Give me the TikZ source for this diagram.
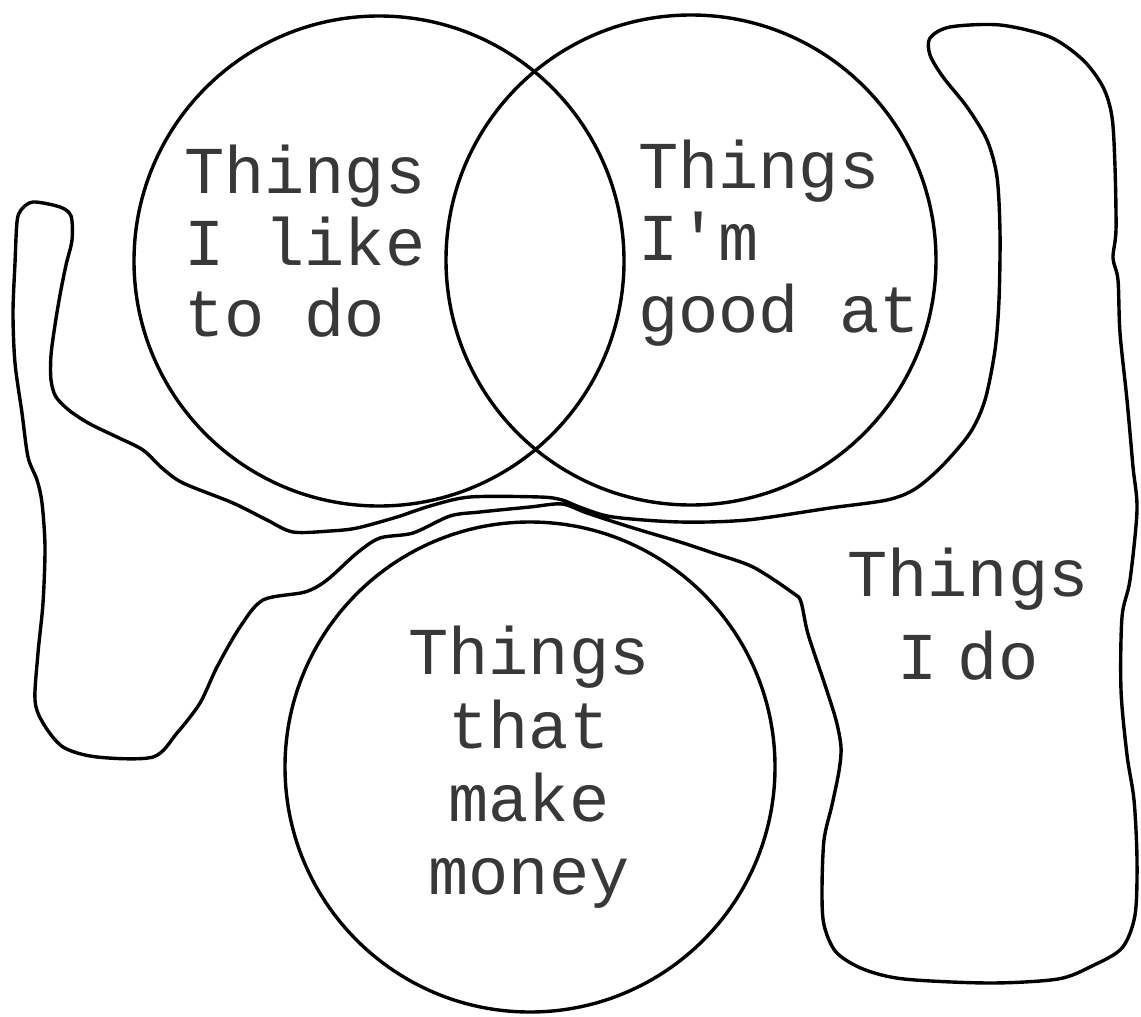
\documentclass[tikz,border=0pt]{standalone}
\usepackage{fontspec}
\setmonofont{Liberation Mono}
\begin{document}
\begin{tikzpicture}[x=1pt,y=-1pt,
  ring/.style={circle,draw=black,line width=3.4pt,minimum size=490pt,inner sep=0pt},
  blob/.style={draw=black,line width=3.4pt,line join=round},
  lbl/.style={inner sep=0pt,outer sep=0pt,text=black!78,font=\ttfamily\fontsize{67}{72}\selectfont},
]
\useasboundingbox (0,0) rectangle (1141,1017);
\fill[white] (0,0) rectangle (1141,1017);
% circles
\node[ring] (like) at (379,261) {};
\node[ring] (good) at (691,260) {};
\node[ring] (money) at (530,767) {};
% freehand outline "Things I do"
\draw[blob] plot[smooth cycle, tension=0.5] coordinates {
(33,202) (60,207) (71,216) (72,240) (66,265) (60,295) (55,325) (51,355) (51,380) (56,397) (70,411) (90,424) (117,437) (143,450) (162,468) (183,483) (233,503) (267,520) (293,532) (330,531) (357,528) (397,517) (430,506) (470,497) (540,497) (562,500) (582,508) (613,517) (680,522) (747,520) (830,508) (887,500) (915,489) (942,466) (970,433) (985,400) (995,350) (999,300) (1000,233) (997,177) (987,140) (967,107) (943,77) (930,55) (930,38) (950,27) (1000,25) (1050,37) (1083,60) (1103,87) (1112,117) (1115,167) (1116,230) (1113,258) (1118,280) (1120,333) (1127,400) (1133,467) (1137,510) (1130,580) (1122,617) (1121,690) (1127,755) (1134,800) (1137,860) (1135,915) (1122,948) (1092,966) (1058,979) (990,983) (904,979) (863,969) (836,952) (824,925) (822,891) (824,840) (832,805) (839,771) (841,747) (836,720) (825,685) (808,634) (801,602) (793,593) (753,567) (713,553) (680,542) (630,527) (587,513) (562,504) (530,507) (480,512) (450,516) (413,533) (380,538) (357,553) (327,580) (305,592) (263,600) (240,627) (217,667) (200,703) (177,733) (153,757) (97,757) (63,747) (43,723) (35,700) (38,653) (43,603) (45,547) (42,503) (37,480) (28,457) (22,413) (15,363) (13,313) (15,263) (17,222) (21,210)};
% labels
\node[lbl,anchor=base west] (l1) at (184,193) {Things};
\node[lbl,anchor=base west] (l2) at (184,265) {I like};
\node[lbl,anchor=base west] (l3) at (184,336) {to do};
\node[lbl,anchor=base west] (g1) at (638,188) {Things};
\node[lbl,anchor=base west] (g2) at (638,260) {I'm};
\node[lbl,anchor=base west] (g3) at (638,332) {good at};
\node[lbl,anchor=base] (m1) at (529,674) {Things};
\node[lbl,anchor=base] (m2) at (529,748) {that};
\node[lbl,anchor=base] (m3) at (529,821) {make};
\node[lbl,anchor=base] (m4) at (529,894) {money};
\node[lbl,anchor=base] (d1) at (968,596) {Things};
\node[lbl,anchor=base] (d2) at (968,679) {I\hspace{-0.3em} do};
\end{tikzpicture}
\end{document}
